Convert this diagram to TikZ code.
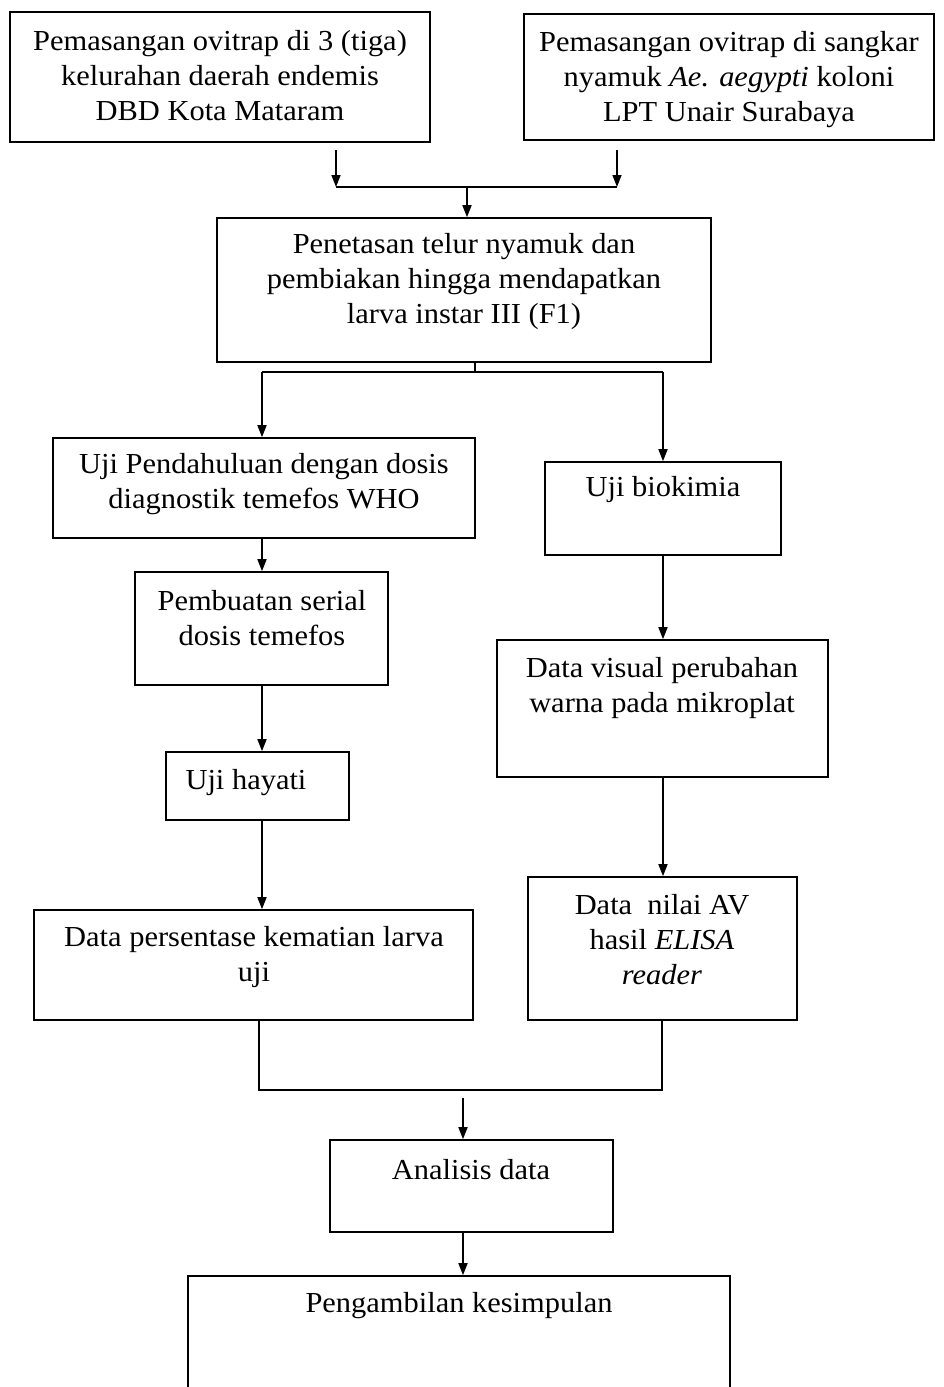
\documentclass[tikz,border=0pt]{standalone}
\usepackage{fontspec}
\setmainfont{Liberation Serif}[FakeStretch=1.05]
\usetikzlibrary{arrows.meta}
\begin{document}
\begin{tikzpicture}[x=1pt,y=-1pt,
 box/.style={draw, line width=1.6pt, inner sep=0pt},
 txt/.style={align=center, font=\fontsize{29}{35}\selectfont, inner sep=0pt},
 arr/.style={line width=1.6pt, -{Triangle[length=12pt,width=9pt]}},
 ln/.style={line width=1.6pt}]
\useasboundingbox (0,0) rectangle (943,1387);
\clip (0,0) rectangle (943,1387);
% boxes
\node[box, minimum width=420pt, minimum height=130pt] (b1) at (220,77) {};
\node[box, minimum width=410pt, minimum height=126pt] (b2) at (729,77) {};
\node[box, minimum width=494pt, minimum height=144pt] (b3) at (464,290) {};
\node[box, minimum width=422pt, minimum height=100pt] (b4) at (264,488) {};
\node[box, minimum width=236pt, minimum height=93pt] (b5) at (663,508.5) {};
\node[box, minimum width=253pt, minimum height=113pt] (b6) at (261.5,628.5) {};
\node[box, minimum width=183pt, minimum height=68pt] (b7) at (257.5,786) {};
\node[box, minimum width=439pt, minimum height=110pt] (b8) at (253.5,965) {};
\node[box, minimum width=331pt, minimum height=137pt] (b9) at (662.5,708.5) {};
\node[box, minimum width=269pt, minimum height=143pt] (b10) at (662.5,948.5) {};
\node[box, minimum width=283pt, minimum height=92pt] (b11) at (471.5,1186) {};
\node[box, minimum width=542pt, minimum height=144pt] (b12) at (459,1348) {};
% texts
\node[txt] (t1) at (220,76) {Pemasangan ovitrap di 3 (tiga)\\kelurahan daerah endemis\\DBD Kota Mataram};
\node[txt] (t2) at (729,80) {Pemasangan ovitrap di sangkar\\nyamuk \textit{Ae. aegypti} koloni\\LPT Unair Surabaya};
\node[txt] (t3) at (464,282) {Penetasan telur nyamuk dan\\pembiakan hingga mendapatkan\\larva instar III (F1)};
\node[txt] (t4) at (264,484) {Uji Pendahuluan dengan dosis\\diagnostik temefos WHO};
\node[txt] (t5) at (663,490) {Uji biokimia};
\node[txt] (t6) at (262,618) {Pembuatan serial\\dosis temefos};
\node[txt] (t7) at (246,783) {Uji hayati};
\node[txt] (t8) at (254,957) {Data persentase kematian larva\\uji};
\node[txt] (t9) at (662,688) {Data visual perubahan\\warna pada mikroplat};
\node[txt] (t10) at (662,940) {Data\ \ nilai AV\\hasil \textit{ELISA}\\\textit{reader}};
\node[txt] (t11) at (471,1170) {Analisis data};
\node[txt] (t12) at (459,1306) {Pengambilan kesimpulan};
% connectors top
\coordinate (a1) at (336,150); \coordinate (j1) at (336,187);
\coordinate (a2) at (617,150); \coordinate (j2) at (617,187);
\coordinate (j3) at (467,187);
\draw[arr] (a1) -- (j1);
\draw[arr] (a2) -- (j2);
\draw[ln] (j1) -- (j2);
\draw[arr] (j3) -- (j3 |- b3.north);
% split
\coordinate (s0) at (475,372);
\coordinate (s1) at (262,372);
\coordinate (s2) at (663,372);
\draw[ln] (b3.south -| s0) -- (s0);
\draw[ln] (s1) -- (s2);
\draw[arr] (s1) -- (s1 |- b4.north);
\draw[arr] (s2) -- (s2 |- b5.north);
% left column
\draw[arr] (b4.south -| s1) -- (b6.north -| s1);
\draw[arr] (b6.south -| s1) -- (b7.north -| s1);
\draw[arr] (b7.south -| s1) -- (b8.north -| s1);
% right column
\draw[arr] (b5.south -| s2) -- (b9.north -| s2);
\draw[arr] (b9.south -| s2) -- (b10.north -| s2);
% merge
\coordinate (m1) at (259,1090);
\coordinate (m2) at (662,1090);
\coordinate (m3) at (463,1098);
\draw[ln] (b8.south -| m1) -- (m1) -- (m2) -- (b10.south -| m2);
\draw[arr] (m3) -- (m3 |- b11.north);
\draw[arr] (b11.south -| m3) -- (b12.north -| m3);
\end{tikzpicture}
\end{document}
